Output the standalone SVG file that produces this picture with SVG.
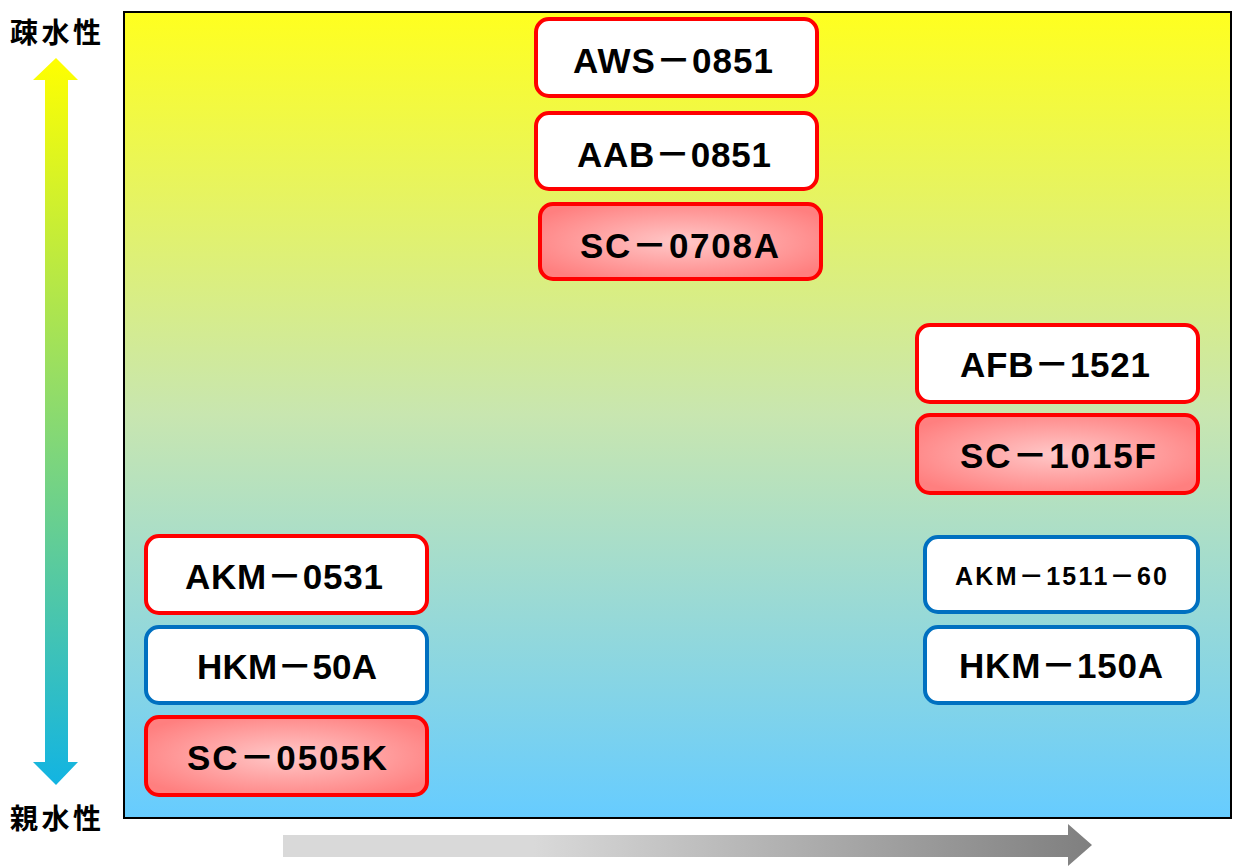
<svg xmlns="http://www.w3.org/2000/svg" width="1233" height="867" viewBox="0 0 1233 867">
<defs>
<linearGradient id="bg" x1="0" y1="0" x2="0" y2="1">
<stop offset="0" stop-color="#FFFF1F"/>
<stop offset="0.5" stop-color="#C8E6B0"/>
<stop offset="1" stop-color="#66CCFF"/>
</linearGradient>
<linearGradient id="varrow" x1="0" y1="58" x2="0" y2="785" gradientUnits="userSpaceOnUse">
<stop offset="0" stop-color="#FFFF00"/>
<stop offset="1" stop-color="#12B4E2"/>
</linearGradient>
<linearGradient id="harrow" x1="283" y1="0" x2="1092" y2="0" gradientUnits="userSpaceOnUse">
<stop offset="0" stop-color="#D9D9D9"/>
<stop offset="0.31" stop-color="#D9D9D9"/>
<stop offset="1" stop-color="#7F7F7F"/>
</linearGradient>
<radialGradient id="pink" cx="0.5" cy="0.5" r="0.6">
<stop offset="0" stop-color="#FFC8C8"/>
<stop offset="1" stop-color="#FF7F7F"/>
</radialGradient>
<style>
.red{fill:#FFFFFF;stroke:#FF0000;stroke-width:4}
.blue{fill:#FFFFFF;stroke:#0070C0;stroke-width:4}
.sc{fill:url(#pink);stroke:#FF0000;stroke-width:4}
.lbl{font-family:"Liberation Sans","Noto Sans CJK JP",sans-serif;font-weight:bold;font-size:35px;fill:#000000}
.small{font-size:25px}
.jp{font-family:"Noto Sans CJK JP",sans-serif;font-weight:bold;font-size:28px;fill:#000000}
</style>
</defs>
<rect x="124" y="12" width="1107" height="806" fill="url(#bg)" stroke="#000000" stroke-width="2"/>
<g id="axis-v">
<polygon points="56,58 78,80 68,80 68,762 78,762 56,785 33,762 45,762 45,80 33,80" fill="url(#varrow)"/>
<text class="jp" x="10" y="43" textLength="91">疎水性</text>
<text class="jp" x="10" y="829" textLength="91">親水性</text>
</g>
<g id="axis-h">
<polygon points="283,835 1068,835 1068,824 1092,845 1068,866 1068,857 283,857" fill="url(#harrow)"/>
</g>
<g id="n-aws0851"><rect class="red" x="536" y="19" width="281" height="77" rx="13"/><text class="lbl" x="573" y="73" textLength="200" lengthAdjust="spacing">AWS－0851</text></g>
<g id="n-aab0851"><rect class="red" x="536" y="113" width="281" height="76" rx="13"/><text class="lbl" x="577" y="167" textLength="194" lengthAdjust="spacing">AAB－0851</text></g>
<g id="n-sc0708a"><rect class="sc" x="540" y="204" width="281" height="75" rx="13"/><text class="lbl" x="580" y="258" textLength="199" lengthAdjust="spacing">SC－0708A</text></g>
<g id="n-afb1521"><rect class="red" x="917" y="325" width="281" height="77" rx="13"/><text class="lbl" x="960" y="377" textLength="190" lengthAdjust="spacing">AFB－1521</text></g>
<g id="n-sc1015f"><rect class="sc" x="917" y="415" width="281" height="78" rx="13"/><text class="lbl" x="960" y="468" textLength="196" lengthAdjust="spacing">SC－1015F</text></g>
<g id="n-akm0531"><rect class="red" x="146" y="536" width="281" height="77" rx="13"/><text class="lbl" x="185" y="589" textLength="198" lengthAdjust="spacing">AKM－0531</text></g>
<g id="n-hkm50a"><rect class="blue" x="146" y="627" width="281" height="76" rx="13"/><text class="lbl" x="197" y="679" textLength="180" lengthAdjust="spacing">HKM－50A</text></g>
<g id="n-sc0505k"><rect class="sc" x="146" y="717" width="281" height="78" rx="13"/><text class="lbl" x="187" y="770" textLength="200" lengthAdjust="spacing">SC－0505K</text></g>
<g id="n-akm1511-60"><rect class="blue" x="925" y="537" width="273" height="75" rx="13"/><text class="lbl small" x="955" y="585" textLength="212" lengthAdjust="spacing">AKM－1511－60</text></g>
<g id="n-hkm150a"><rect class="blue" x="925" y="627" width="273" height="76" rx="13"/><text class="lbl" x="959" y="678" textLength="204" lengthAdjust="spacing">HKM－150A</text></g>
<g id="connectors"/>
</svg>
